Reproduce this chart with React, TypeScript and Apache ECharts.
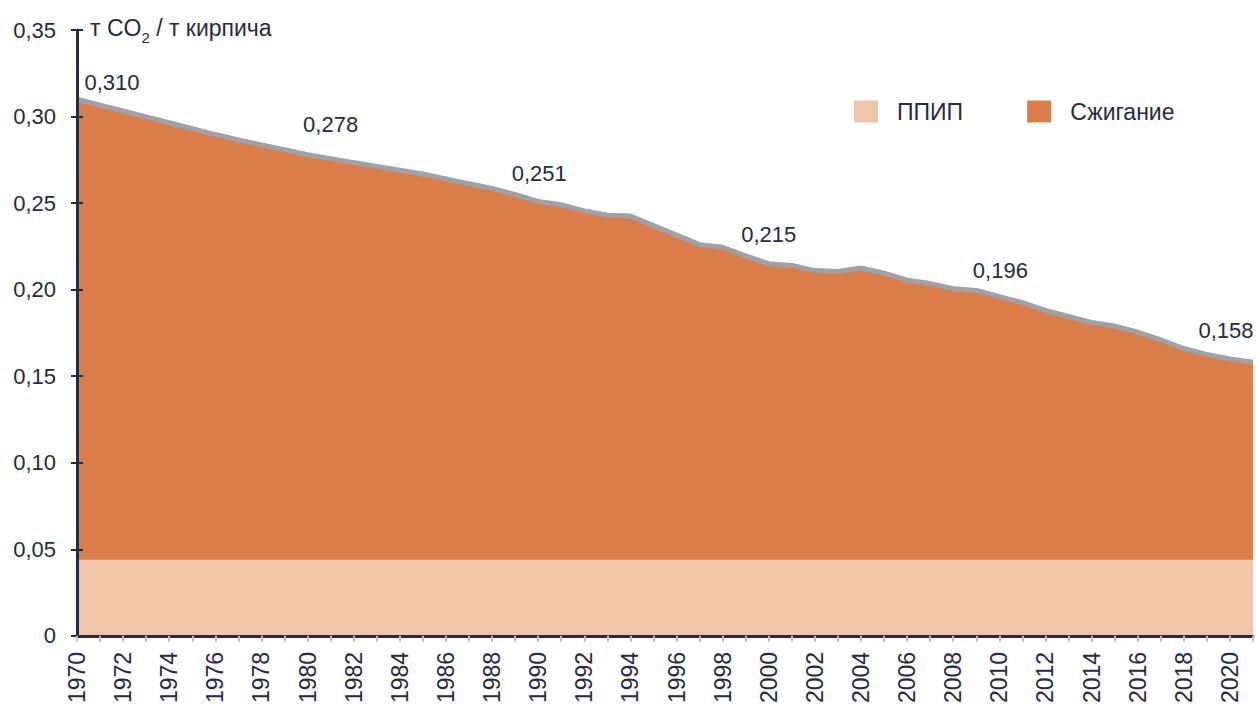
import React, { useEffect, useRef } from "react";
import * as echarts from "echarts";

const years: string[] = [];
for (let y = 1970; y <= 2021; y++) years.push(String(y));

// Total emissions (top grey line), t CO2 / t brick
const totalValues = [
  0.310, 0.3066, 0.3032, 0.2998, 0.2964, 0.2930, 0.2896, 0.2865, 0.2836, 0.2808,
  0.278, 0.2757, 0.2734, 0.2712, 0.2690, 0.2668, 0.2640, 0.2612, 0.2585, 0.2550,
  0.251, 0.2490, 0.2455, 0.2430, 0.2425, 0.2370, 0.2315, 0.2260, 0.2245, 0.2195,
  0.215, 0.2140, 0.2110, 0.2105, 0.2125, 0.2095, 0.2055, 0.2035, 0.2005, 0.1995,
  0.196, 0.1925, 0.1880, 0.1845, 0.1810, 0.1790, 0.1755, 0.1710, 0.1660, 0.1625,
  0.160, 0.158,
];

// ППИП (process emissions) — constant band
const ppipValues = [
  0.044, 0.044, 0.044, 0.044, 0.044, 0.044, 0.044, 0.044, 0.044, 0.044,
  0.044, 0.044, 0.044, 0.044, 0.044, 0.044, 0.044, 0.044, 0.044, 0.044,
  0.044, 0.044, 0.044, 0.044, 0.044, 0.044, 0.044, 0.044, 0.044, 0.044,
  0.044, 0.044, 0.044, 0.044, 0.044, 0.044, 0.044, 0.044, 0.044, 0.044,
  0.044, 0.044, 0.044, 0.044, 0.044, 0.044, 0.044, 0.044, 0.044, 0.044,
  0.044, 0.044,
];

// Сжигание (combustion) = total − ППИП
const combustionValues = totalValues.map((t, i) => +(t - ppipValues[i]).toFixed(4));

const labelYears = ["1970", "1980", "1990", "2000", "2010", "2021"];
const labelOffsets = [
  [35, -6],
  [23, -19],
  [1, -17],
  [0, -18],
  [1, -15],
  [-27, -21],
];

const NAVY = "#262a45";
const FONT = "'Liberation Sans', Arial, sans-serif";

export default function App() {
  const ref = useRef<HTMLDivElement>(null);
  useEffect(() => {
    if (!ref.current) return;
    const chart = echarts.init(ref.current, undefined, { renderer: "svg" });
    const fmtY = (v: number) => (v === 0 ? "0" : v.toFixed(2).replace(".", ","));
    chart.setOption({
      animation: false,
      textStyle: { fontFamily: FONT },
      grid: { left: 77, right: 3, top: 30, bottom: 68, containLabel: false },
      legend: {
        data: ["ППИП", "Сжигание"],
        left: 854,
        top: 100,
        padding: 0,
        icon: "rect",
        itemWidth: 24,
        itemHeight: 22,
        itemGap: 64,
        textStyle: { fontSize: 23, color: NAVY, fontFamily: FONT, padding: [0, 0, 0, 14] },
      },
      xAxis: {
        type: "category",
        data: years,
        boundaryGap: false,
        z: 10,
        axisLine: { lineStyle: { color: NAVY, width: 3 } },
        axisTick: { show: true, interval: 0, length: 6, lineStyle: { color: "#b8bcc4", width: 2 } },
        axisLabel: {
          interval: 1,
          rotate: 90,
          fontSize: 23,
          color: NAVY,
          margin: 16,
          fontFamily: FONT,
        },
        splitLine: { show: false },
      },
      yAxis: [
        {
          type: "value",
          min: 0,
          max: 0.35,
          interval: 0.05,
          z: 10,
          name: "т CO{sub|2} / т кирпича",
          nameLocation: "end",
          nameGap: 2,
          nameTextStyle: {
            fontSize: 23,
            color: NAVY,
            fontFamily: FONT,
            align: "left",
            verticalAlign: "middle",
            padding: [0, 0, 0, 13],
            rich: {
              sub: { fontSize: 15, color: NAVY, fontFamily: FONT, verticalAlign: "bottom", lineHeight: 33 },
            },
          },
          axisLine: { show: true, lineStyle: { color: NAVY, width: 3 } },
          axisTick: { show: true, length: 6, lineStyle: { color: NAVY, width: 2 } },
          axisLabel: { formatter: fmtY, fontSize: 22, color: NAVY, margin: 21, fontFamily: FONT },
          splitLine: { show: false },
        },
        {
          type: "value",
          min: 0,
          max: 0.35,
          interval: 0.05,
          position: "left",
          z: 10,
          axisLine: { show: false },
          axisTick: { show: true, inside: true, length: 6, lineStyle: { color: NAVY, width: 2 } },
          axisLabel: { show: false },
          splitLine: { show: false },
        },
      ],
      series: [
        {
          name: "ППИП",
          type: "line",
          stack: "total",
          data: ppipValues,
          symbol: "none",
          lineStyle: { width: 0 },
          itemStyle: { color: "#efc4a9" },
          areaStyle: { color: "#efc4a9", opacity: 1 },
        },
        {
          name: "Сжигание",
          type: "line",
          stack: "total",
          data: combustionValues,
          symbol: "none",
          lineStyle: { width: 0 },
          itemStyle: { color: "#db7d48" },
          areaStyle: { color: "#db7d48", opacity: 1 },
        },
        {
          name: "Итого",
          type: "line",
          data: totalValues,
          symbol: "none",
          lineStyle: { width: 5, color: "#9ea1a6" },
          itemStyle: { color: "#9ea1a6" },
        },
        {
          name: "labels",
          type: "scatter",
          symbolSize: 0.01,
          z: 20,
          itemStyle: { color: NAVY, opacity: 1 },
          data: labelYears.map((y, i) => ({
            value: [y, totalValues[years.indexOf(y)]],
            label: {
              show: true,
              position: "top",
              distance: 0,
              offset: labelOffsets[i],
              formatter: (p: any) => p.value[1].toFixed(3).replace(".", ","),
              fontSize: 22,
              color: NAVY,
              opacity: 1,
              fontFamily: FONT,
            },
          })),
        },
      ],
    });
    return () => chart.dispose();
  }, []);
  return (
    <div
      ref={ref}
      style={{ position: "absolute", left: 0, top: 0, width: 1256, height: 706, background: "#fff" }}
    />
  );
}
